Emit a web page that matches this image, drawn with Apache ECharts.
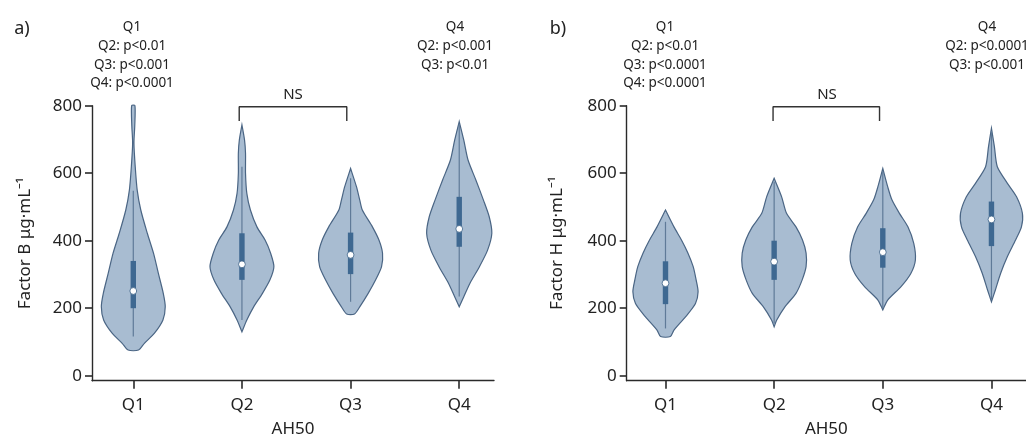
<!DOCTYPE html>
<html>
<head>
<meta charset="utf-8">
<script src="https://cdn.jsdelivr.net/npm/echarts@6/dist/echarts.min.js"></script>
<style>html,body{margin:0;padding:0;background:#fff}#c{width:1026px;height:446px}</style>
</head>
<body>
<div id="c"></div>
<script>
// ---- data ----
const categories = ['Q1', 'Q2', 'Q3', 'Q4'];
const yTicks = [0, 200, 400, 600, 800];

// violin outlines: [value, relative half-width]
const factorB_Q1 = [[76,.16],[96,.34],[126,.65],[165,.91],[204,.98],[244,.92],[303,.77],[363,.62],[422,.43],[491,.23],[550,.12],[619,.06],[689,.02],[740,.045],[800,.05]];
const factorB_Q2 = [[130,0],[165,.15],[204,.36],[244,.63],[284,.86],[323,.98],[363,.88],[402,.71],[441,.46],[491,.26],[540,.15],[600,.11],[659,.11],[698,.08],[743,0]];
const factorB_Q3 = [[183,.12],[204,.28],[244,.54],[284,.77],[323,.95],[363,.98],[402,.87],[441,.67],[491,.36],[521,.28],[560,.18],[614,0]];
const factorB_Q4 = [[204,0],[234,.14],[274,.33],[323,.62],[372,.87],[422,1.0],[471,.92],[521,.74],[580,.51],[639,.27],[698,.14],[753,0]];

const factorH_Q1 = [[116,.15],[135,.26],[175,.62],[214,.92],[249,1.0],[284,.94],[323,.85],[363,.69],[402,.49],[441,.26],[491,0]];
const factorH_Q2 = [[145,0],[165,.08],[204,.33],[244,.67],[284,.86],[323,.98],[363,.98],[402,.87],[441,.67],[481,.38],[530,.23],[585,0]];
const factorH_Q3 = [[195,0],[224,.15],[264,.56],[303,.86],[343,1.0],[392,.95],[441,.77],[481,.51],[521,.28],[560,.15],[614,0]];
const factorH_Q4 = [[219,0],[254,.12],[303,.28],[353,.49],[402,.74],[441,.92],[481,.95],[530,.77],[570,.49],[619,.18],[679,.09],[733,0]];

// box stats: [whisker low, Q1, median, Q3, whisker high]
const factorB_box = [[116,200,251,340,548],[165,284,330,422,619],[219,301,358,424,585],[235,382,435,530,745]];
const factorH_box = [[140,212,274,339,456],[155,284,338,400,575],[200,320,366,437,605],[225,384,463,516,725]];

// significance annotations
const annotB_left = ['Q1', 'Q2: p<0.01', 'Q3: p<0.001', 'Q4: p<0.0001'];
const annotB_right = ['Q4', 'Q2: p<0.001', 'Q3: p<0.01'];
const annotH_left = ['Q1', 'Q2: p<0.01', 'Q3: p<0.0001', 'Q4: p<0.0001'];
const annotH_right = ['Q4', 'Q2: p<0.0001', 'Q3: p<0.001'];
const bracketB = [[0.975,755],[0.975,797],[1.965,797],[1.965,755]];
const bracketH = [[0.99,755],[0.99,797],[1.97,797],[1.97,755]];

// ---- chart ----
const FONT = '"Noto Sans", sans-serif';
const TXT = '#222';
const violinsB = [factorB_Q1, factorB_Q2, factorB_Q3, factorB_Q4];
const violinsH = [factorH_Q1, factorH_Q2, factorH_Q3, factorH_Q4];
const HALF = 0.3;

function violinRender(violins, boxes) {
  return function (params, api) {
    const i = api.value(0);
    const prof = violins[i];
    const pts = [];
    for (let k = 0; k < prof.length; k++) pts.push(api.coord([i + prof[k][1] * HALF, prof[k][0]]));
    for (let k = prof.length - 1; k >= 0; k--) pts.push(api.coord([i - prof[k][1] * HALF, prof[k][0]]));
    const b = boxes[i];
    const wl = api.coord([i, b[0]]), q1 = api.coord([i, b[1]]), md = api.coord([i, b[2]]), q3 = api.coord([i, b[3]]), wh = api.coord([i, b[4]]);
    return {
      type: 'group',
      children: [
        { type: 'polygon', shape: { points: pts, smooth: 0.25 }, style: { fill: '#a8bcd1', stroke: '#4a6584', lineWidth: 1.2 } },
        { type: 'line', shape: { x1: wl[0], y1: wl[1], x2: wh[0], y2: wh[1] }, style: { stroke: '#5f7a98', lineWidth: 1.2 } },
        { type: 'rect', shape: { x: q3[0] - 2.7, y: q3[1], width: 5.4, height: q1[1] - q3[1] }, style: { fill: '#3e6891' } },
        { type: 'circle', shape: { cx: md[0], cy: md[1], r: 3.4 }, style: { fill: '#fff', stroke: '#3a5f85', lineWidth: 0.8 } }
      ]
    };
  };
}

function xAxis(gi, min, max) {
  return {
    type: 'value', gridIndex: gi, min: min, max: max,
    name: 'AH50', nameLocation: 'middle', nameGap: 40,
    nameTextStyle: { fontFamily: FONT, fontSize: 17, color: TXT },
    axisLine: { show: true, onZero: false, lineStyle: { color: '#2a2a2a', width: 1.4 } },
    axisTick: { show: true, length: 8, customValues: [0, 1, 2, 3], lineStyle: { color: '#2a2a2a', width: 1.6 } },
    axisLabel: { customValues: [0, 1, 2, 3], formatter: v => categories[Math.round(v)], margin: 16, fontFamily: FONT, fontSize: 17, color: TXT },
    splitLine: { show: false }
  };
}
function yAxis(gi, name, gap) {
  return {
    type: 'value', gridIndex: gi, min: -14.8, max: 800,
    name: name, nameLocation: 'middle', nameGap: gap, nameRotate: 90,
    nameTextStyle: { fontFamily: FONT, fontSize: 17, color: TXT },
    axisLine: { show: true, onZero: false, lineStyle: { color: '#2a2a2a', width: 1.4 } },
    axisTick: { show: true, length: 7, customValues: yTicks, lineStyle: { color: '#2a2a2a', width: 1.6 } },
    axisLabel: { customValues: yTicks, margin: 10, fontFamily: FONT, fontSize: 17, color: TXT },
    splitLine: { show: false }
  };
}

function textBlock(lines, cx, y0, step) {
  return lines.map((t, k) => ({
    type: 'text', x: cx, y: y0 + k * step,
    style: { text: t, fontFamily: FONT, fontSize: 13.5, fill: TXT, align: 'center', verticalAlign: 'middle' }
  }));
}

const option = {
  backgroundColor: '#fff',
  animation: false,
  grid: [
    { left: 92, top: 105.7, width: 402, height: 275 },
    { left: 626.7, top: 105.7, right: 0, height: 275 }
  ],
  xAxis: [xAxis(0, -0.38, 3.32), xAxis(1, -0.357, 3.318)],
  yAxis: [yAxis(0, 'Factor B μg·mL⁻¹', 58), yAxis(1, 'Factor H μg·mL⁻¹', 61)],
  series: [
    { type: 'custom', xAxisIndex: 0, yAxisIndex: 0, clip: false, renderItem: violinRender(violinsB, factorB_box),
      data: categories.map((c, i) => [i, factorB_box[i][2]]) },
    { type: 'custom', xAxisIndex: 1, yAxisIndex: 1, clip: false, renderItem: violinRender(violinsH, factorH_box),
      data: categories.map((c, i) => [i, factorH_box[i][2]]) },
    { type: 'line', xAxisIndex: 0, yAxisIndex: 0, data: bracketB, symbol: 'none', clip: false,
      lineStyle: { color: '#333', width: 1.4 }, z: 5 },
    { type: 'line', xAxisIndex: 1, yAxisIndex: 1, data: bracketH, symbol: 'none', clip: false,
      lineStyle: { color: '#333', width: 1.4 }, z: 5 }
  ],
  graphic: [
    { type: 'text', x: 22, y: 29, style: { text: 'a)', fontFamily: FONT, fontSize: 18, fill: TXT, align: 'center', verticalAlign: 'middle' } },
    { type: 'text', x: 558, y: 29, style: { text: 'b)', fontFamily: FONT, fontSize: 18, fill: TXT, align: 'center', verticalAlign: 'middle' } },
    { type: 'text', x: 293, y: 95, style: { text: 'NS', fontFamily: FONT, fontSize: 15, fill: TXT, align: 'center', verticalAlign: 'middle' } },
    { type: 'text', x: 827, y: 95, style: { text: 'NS', fontFamily: FONT, fontSize: 15, fill: TXT, align: 'center', verticalAlign: 'middle' } },
    ...textBlock(annotB_left, 132, 27.5, 18.6),
    ...textBlock(annotB_right, 455, 27.5, 18.6),
    ...textBlock(annotH_left, 665, 27.5, 18.6),
    ...textBlock(annotH_right, 987, 27.5, 18.6)
  ]
};

const chart = echarts.init(document.getElementById('c'), null, { renderer: 'canvas' });
chart.setOption(option);
</script>
</body>
</html>
